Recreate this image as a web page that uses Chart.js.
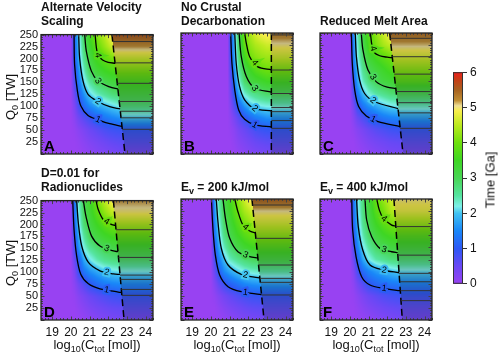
<!DOCTYPE html>
<html>
<head>
<meta charset="utf-8">
<script src="https://cdn.jsdelivr.net/npm/chart.js@4.4.1/dist/chart.umd.min.js"></script>
<style>
  body { margin: 0; background: #fff; width: 500px; height: 354px; position: relative; overflow: hidden;
         font-family: "Liberation Sans", Arial, Helvetica, sans-serif; color: #111; }
  canvas { position: absolute; }
  .ttl { position: absolute; font-weight: bold; font-size: 12px; line-height: 14px; white-space: nowrap; }
  .lab { position: absolute; font-size: 13px; white-space: nowrap; transform: translate(-50%, -50%); color: #111; }
  .rot { transform: translate(-50%, -50%) rotate(-90deg); }
  sub { font-size: 9px; line-height: 0; vertical-align: -3px; }
</style>
</head>
<body>
<script>
'use strict';

// ---- data ----
var Q_ROWS = [250, 225, 200, 175, 150, 125, 100, 75, 50, 25, 0];
var X_TICKS = [19, 20, 21, 22, 23, 24];
var Y_TICKS = [25, 50, 75, 100, 125, 150, 175, 200, 225, 250];
var TIME_TICKS = [0, 1, 2, 3, 4, 5, 6];

var xNodesStd = [20.0, 20.2, 20.4, 20.7, 21.0, 21.4, 21.8, 22.2, 22.6, 23.0];
var xNodesB = [20.9, 21.05, 21.25, 21.5, 21.8, 22.1, 22.4, 22.7, 23.0, 23.25];

// time [Ga] on the grid (rows = Q_ROWS, columns = x nodes), left of the dashed line
var fieldA = [
  [0, 1.15, 2.0, 2.95, 3.55, 4.15, 4.5, 5.0, 5.2, 5.2],
  [0, 1.05, 1.9, 2.8, 3.35, 3.9, 4.25, 4.6, 4.8, 4.8],
  [0, 1.0, 1.75, 2.6, 3.15, 3.6, 3.85, 4.05, 4.15, 4.15],
  [0, 0.85, 1.5, 2.35, 2.95, 3.3, 3.5, 3.65, 3.75, 3.75],
  [0, 0.7, 1.3, 2.05, 2.5, 2.85, 3.05, 3.2, 3.25, 3.25],
  [0, 0.5, 1.05, 1.6, 2.05, 2.35, 2.55, 2.75, 2.85, 2.85],
  [0, 0.3, 0.75, 1.2, 1.5, 1.75, 1.9, 2.05, 2.2, 2.2],
  [0, 0.15, 0.4, 0.65, 0.85, 1.1, 1.3, 1.45, 1.55, 1.55],
  [0, 0.05, 0.15, 0.3, 0.45, 0.6, 0.75, 0.85, 0.9, 0.9],
  [0, 0, 0.05, 0.15, 0.25, 0.35, 0.45, 0.55, 0.6, 0.6],
  [0, 0, 0, 0.05, 0.1, 0.2, 0.25, 0.3, 0.38, 0.38]
];
var fieldB = [
  [0, 0.95, 1.85, 3.0, 4.0, 4.4, 4.7, 4.9, 5.0, 5.0],
  [0, 0.9, 1.8, 2.9, 3.85, 4.2, 4.4, 4.5, 4.6, 4.6],
  [0, 0.85, 1.7, 2.75, 3.5, 4.0, 4.15, 4.25, 4.3, 4.3],
  [0, 0.7, 1.5, 2.55, 3.1, 3.5, 3.75, 3.9, 4.0, 4.0],
  [0, 0.55, 1.3, 2.2, 2.85, 3.15, 3.3, 3.4, 3.5, 3.5],
  [0, 0.4, 1.0, 1.75, 2.3, 2.55, 2.7, 2.8, 2.9, 2.9],
  [0, 0.25, 0.7, 1.2, 1.65, 1.95, 2.1, 2.2, 2.25, 2.25],
  [0, 0.12, 0.35, 0.65, 0.95, 1.2, 1.4, 1.5, 1.6, 1.6],
  [0, 0.05, 0.15, 0.35, 0.5, 0.65, 0.8, 0.9, 0.95, 0.95],
  [0, 0, 0.08, 0.2, 0.3, 0.4, 0.5, 0.55, 0.6, 0.6],
  [0, 0, 0, 0.08, 0.15, 0.22, 0.28, 0.32, 0.35, 0.35]
];
var fieldC = [
  [0, 1.6, 2.35, 3.15, 3.75, 4.2, 4.6, 5.0, 5.1, 5.1],
  [0, 1.5, 2.25, 3.05, 3.6, 4.05, 4.35, 4.55, 4.6, 4.6],
  [0, 1.4, 2.15, 2.85, 3.3, 3.6, 3.8, 4.0, 4.05, 4.05],
  [0, 1.25, 1.9, 2.6, 3.0, 3.25, 3.45, 3.65, 3.7, 3.7],
  [0, 0.95, 1.7, 2.35, 2.7, 3.0, 3.2, 3.3, 3.35, 3.35],
  [0, 0.7, 1.35, 1.9, 2.25, 2.5, 2.65, 2.8, 2.85, 2.85],
  [0, 0.4, 0.95, 1.35, 1.6, 1.8, 2.0, 2.15, 2.2, 2.2],
  [0, 0.2, 0.5, 0.75, 0.98, 1.2, 1.35, 1.45, 1.5, 1.5],
  [0, 0.08, 0.2, 0.35, 0.5, 0.65, 0.75, 0.85, 0.9, 0.9],
  [0, 0, 0.08, 0.18, 0.28, 0.38, 0.45, 0.52, 0.55, 0.55],
  [0, 0, 0, 0.06, 0.12, 0.2, 0.26, 0.32, 0.35, 0.35]
];
var fieldD = [
  [0, 1.3, 2.3, 3.05, 3.4, 4.05, 4.5, 4.9, 5.0, 5.0],
  [0, 1.2, 2.15, 2.95, 3.3, 3.8, 4.2, 4.5, 4.55, 4.55],
  [0, 1.15, 2.0, 2.8, 3.15, 3.5, 3.8, 4.0, 4.05, 4.05],
  [0, 0.9, 1.75, 2.5, 2.95, 3.2, 3.4, 3.55, 3.6, 3.6],
  [0, 0.75, 1.5, 2.2, 2.55, 2.8, 3.0, 3.1, 3.15, 3.15],
  [0, 0.5, 1.0, 1.75, 2.1, 2.4, 2.6, 2.7, 2.75, 2.75],
  [0, 0.3, 0.85, 1.3, 1.55, 1.75, 1.95, 2.05, 2.1, 2.1],
  [0, 0.15, 0.4, 0.7, 0.97, 1.2, 1.35, 1.45, 1.5, 1.5],
  [0, 0.05, 0.18, 0.33, 0.48, 0.62, 0.75, 0.85, 0.9, 0.9],
  [0, 0, 0.07, 0.17, 0.27, 0.37, 0.45, 0.52, 0.55, 0.55],
  [0, 0, 0, 0.05, 0.11, 0.19, 0.25, 0.31, 0.35, 0.35]
];
var fieldE = [
  [0, 1.7, 2.4, 3.1, 3.5, 4.1, 4.6, 5.05, 5.1, 5.1],
  [0, 1.6, 2.3, 3.0, 3.4, 3.95, 4.35, 4.6, 4.65, 4.65],
  [0, 1.45, 2.1, 2.85, 3.25, 3.7, 4.05, 4.3, 4.35, 4.35],
  [0, 1.25, 1.9, 2.65, 3.05, 3.45, 3.75, 3.95, 4.0, 4.0],
  [0, 1.0, 1.65, 2.35, 2.75, 3.1, 3.35, 3.5, 3.55, 3.55],
  [0, 0.75, 1.35, 1.9, 2.35, 2.6, 2.8, 2.95, 3.0, 3.0],
  [0, 0.5, 1.0, 1.5, 1.75, 2.0, 2.2, 2.3, 2.35, 2.35],
  [0, 0.25, 0.55, 0.9, 1.1, 1.3, 1.5, 1.6, 1.65, 1.65],
  [0, 0.08, 0.22, 0.4, 0.55, 0.7, 0.82, 0.92, 0.95, 0.95],
  [0, 0, 0.08, 0.2, 0.3, 0.4, 0.5, 0.57, 0.6, 0.6],
  [0, 0, 0, 0.06, 0.12, 0.2, 0.27, 0.33, 0.36, 0.36]
];
var fieldF = [
  [0, 1.3, 2.1, 2.75, 3.25, 3.9, 4.25, 4.6, 4.7, 4.7],
  [0, 1.2, 2.0, 2.7, 3.15, 3.75, 4.05, 4.4, 4.5, 4.5],
  [0, 1.1, 1.85, 2.6, 3.05, 3.5, 3.8, 4.05, 4.15, 4.15],
  [0, 0.95, 1.65, 2.4, 2.85, 3.2, 3.45, 3.6, 3.7, 3.7],
  [0, 0.7, 1.4, 2.1, 2.5, 2.9, 3.05, 3.2, 3.25, 3.25],
  [0, 0.45, 1.1, 1.75, 2.15, 2.45, 2.6, 2.75, 2.8, 2.8],
  [0, 0.25, 0.75, 1.2, 1.45, 1.65, 1.8, 1.95, 2.05, 2.05],
  [0, 0.12, 0.38, 0.7, 0.98, 1.15, 1.28, 1.35, 1.4, 1.4],
  [0, 0.04, 0.15, 0.32, 0.47, 0.6, 0.72, 0.8, 0.85, 0.85],
  [0, 0, 0.06, 0.16, 0.26, 0.36, 0.44, 0.5, 0.55, 0.55],
  [0, 0, 0, 0.05, 0.1, 0.18, 0.24, 0.3, 0.35, 0.35]
];

// time [Ga] right of the dashed line, per Q_ROWS
var rightA = [5.6, 5.2, 4.6, 4.1, 3.6, 3.2, 2.75, 1.97, 0.97, 0.7, 0.4];
var rightB = [5.35, 5.0, 4.6, 4.1, 3.55, 3.0, 2.35, 1.6, 0.97, 0.7, 0.4];
var rightC = [5.45, 5.1, 4.65, 4.2, 3.75, 3.05, 2.4, 1.7, 0.95, 0.65, 0.4];
var rightD = [5.2, 4.95, 4.4, 3.85, 3.35, 2.85, 2.15, 1.5, 0.95, 0.65, 0.4];
var rightE = [5.55, 5.05, 4.65, 4.2, 3.7, 3.2, 2.5, 1.7, 0.95, 0.65, 0.4];
var rightF = [5.0, 4.8, 4.3, 3.75, 3.3, 2.8, 2.1, 1.45, 0.9, 0.6, 0.4];

// dashed boundary [log10 C, Q0] at top and bottom
var dashA = [[22.2, 250], [22.9, 0]];
var dashB = [[23.24, 250], [23.24, 0]];
var dashC = [[22.13, 250], [22.85, 0]];
var dashD = [[22.28, 250], [22.85, 0]];
var dashE = [[22.2, 250], [22.85, 0]];
var dashF = [[22.36, 250], [22.81, 0]];

// contours 1..4 Ga left of the dashed line
var contoursA = [
  [[20.17, 250], [20.2, 187], [20.35, 132], [20.53, 101], [20.92, 80.6], [21.45, 71.6], [22.08, 63.4], [22.74, 58]],
  [[20.42, 250], [20.47, 201], [20.65, 153], [20.92, 125], [21.45, 110], [22.08, 99], [22.64, 94.4]],
  [[20.74, 250], [20.83, 215], [21.1, 173.5], [21.45, 153], [22.08, 140.5], [22.52, 136]],
  [[21.3, 250], [21.36, 225], [21.45, 207], [21.7, 197], [22.0, 192], [22.37, 190]]
];
var contoursB = [
  [[21.06, 250], [21.13, 187], [21.28, 132], [21.49, 91], [21.81, 71.6], [22.35, 60], [23.24, 56]],
  [[21.28, 250], [21.36, 187], [21.54, 139], [21.81, 112], [22.35, 93.7], [23.24, 89]],
  [[21.51, 250], [21.63, 201], [21.9, 160], [22.35, 135.7], [23.24, 128]],
  [[21.81, 250], [21.9, 228.6], [22.08, 201], [22.52, 180], [23.24, 174]]
];
var contoursC = [
  [[20.08, 250], [20.13, 187], [20.26, 132], [20.47, 98], [20.88, 78.5], [21.51, 66.8], [22.69, 56.5]],
  [[20.29, 250], [20.35, 201], [20.52, 153], [20.79, 125], [21.33, 108], [22.58, 94]],
  [[20.61, 250], [20.7, 215], [20.97, 173.5], [21.42, 149], [22.0, 138], [22.46, 135.7]],
  [[21.1, 250], [21.18, 225], [21.3, 210], [21.6, 203], [22.0, 200], [22.27, 199]]
];
var contoursD = [
  [[20.1, 250], [20.17, 189], [20.31, 134], [20.53, 96], [20.94, 75.8], [21.56, 65.4], [22.54, 58.5], [22.72, 57.5]],
  [[20.31, 250], [20.4, 203], [20.58, 155], [20.94, 120.5], [21.56, 103], [22.28, 96.4], [22.63, 95.5]],
  [[20.67, 250], [20.81, 217], [21.11, 175.6], [21.56, 155], [22.28, 144.6], [22.52, 143]],
  [[21.35, 250], [21.47, 230.7], [21.74, 210], [22.19, 199.7], [22.4, 198]]
];
var contoursE = [
  [[20.03, 250], [20.11, 189], [20.24, 134], [20.47, 93], [20.92, 68.9], [21.63, 58.5], [22.61, 53], [22.71, 52.5]],
  [[20.29, 250], [20.38, 203], [20.56, 148], [20.92, 113.6], [21.63, 94.4], [22.52, 87.5], [22.62, 87]],
  [[20.65, 250], [20.78, 210], [21.01, 168.7], [21.45, 141], [22.08, 130.9], [22.52, 128]],
  [[21.28, 250], [21.45, 223.8], [21.72, 196], [22.08, 184], [22.38, 180]]
];
var contoursF = [
  [[20.1, 250], [20.15, 186], [20.33, 131], [20.63, 89.5], [21.08, 72.3], [21.79, 65.4], [22.7, 60.5]],
  [[20.36, 250], [20.45, 193], [20.69, 144.6], [21.08, 113.6], [21.79, 103.3], [22.63, 97.6]],
  [[20.81, 250], [20.9, 206.6], [21.17, 172], [21.61, 148], [22.24, 141], [22.56, 139]],
  [[21.44, 250], [21.58, 227], [21.79, 210], [22.24, 196], [22.46, 194]]
];

// Q0 of the flat contours right of the dashed line
var flatA = [235.5, 190.8, 148, 110, 89.5, 75.8, 51.7];
var flatB = [246, 173.5, 125, 96, 87.5, 69, 53];
var flatC = [239, 201, 165, 129, 106, 85, 53];
var flatD = [189, 131, 94, 85, 64, 51.6];
var flatE = [237.6, 168.7, 113.6, 86, 77.8, 51.7];
var flatF = [193, 134, 96.4, 79, 60.6, 40];

// ---- colour scale (style) ----
var CMAP_T = [0, 0.5, 1.0, 1.5, 2.0, 2.2, 2.5, 3.0, 3.5, 4.0, 4.5, 4.9, 5.05, 5.2, 5.5, 5.8, 6.0];
var CMAP_RGB = [
  [152, 66, 242], [105, 72, 245], [45, 88, 245], [25, 135, 248], [65, 195, 242], [125, 240, 232],
  [85, 228, 160], [72, 214, 85], [62, 214, 35], [110, 224, 12], [188, 234, 30], [248, 238, 75],
  [238, 222, 150], [192, 142, 52], [168, 98, 32], [200, 60, 22], [240, 30, 28]
];

Chart.defaults.font.family = '"Liberation Sans", Arial, Helvetica, sans-serif';
Chart.defaults.font.size = 12;
Chart.defaults.color = '#111';

function cmap(t) {
  if (t <= CMAP_T[0]) return CMAP_RGB[0].slice();
  for (var i = 0; i < CMAP_T.length - 1; i++) {
    if (t <= CMAP_T[i + 1]) {
      var f = (t - CMAP_T[i]) / (CMAP_T[i + 1] - CMAP_T[i]);
      var a = CMAP_RGB[i], b = CMAP_RGB[i + 1];
      return [a[0] + (b[0] - a[0]) * f, a[1] + (b[1] - a[1]) * f, a[2] + (b[2] - a[2]) * f];
    }
  }
  return CMAP_RGB[CMAP_RGB.length - 1].slice();
}

function locate(nodes, v) {
  var n = nodes.length, asc = nodes[n - 1] > nodes[0];
  for (var i = 0; i < n - 1; i++) {
    var a = nodes[i], b = nodes[i + 1];
    if ((asc && v <= b) || (!asc && v >= b)) {
      var f = (v - a) / (b - a);
      return [i, Math.max(0, Math.min(1, f))];
    }
  }
  return [n - 2, 1];
}

function dashAt(dash, q) {
  var f = (q - dash[0][1]) / (dash[1][1] - dash[0][1]);
  return dash[0][0] + f * (dash[1][0] - dash[0][0]);
}

function colorAt(p, x, q) {
  var r = locate(Q_ROWS, q), c, t, rgb;
  if (x >= dashAt(p.dash, q)) {
    t = p.right[r[0]] * (1 - r[1]) + p.right[r[0] + 1] * r[1];
    rgb = cmap(t);
    return [rgb[0] * 0.8 + 6, rgb[1] * 0.8 + 6, rgb[2] * 0.8 + 6];
  }
  c = locate(p.xNodes, x);
  var g = p.field;
  var v0 = g[r[0]][c[0]] * (1 - c[1]) + g[r[0]][c[0] + 1] * c[1];
  var v1 = g[r[0] + 1][c[0]] * (1 - c[1]) + g[r[0] + 1][c[0] + 1] * c[1];
  t = v0 * (1 - r[1]) + v1 * r[1];
  return cmap(t);
}

function toPt(p) { return { x: p[0], y: p[1] }; }

var panels = [
  { id: 'A', left: 41, top: 33, field: fieldA, xNodes: xNodesStd, right: rightA, dash: dashA, contours: contoursA, flat: flatA, labelX: 21.45, yLab: true, xLab: false },
  { id: 'B', left: 181, top: 33, field: fieldB, xNodes: xNodesB, right: rightB, dash: dashB, contours: contoursB, flat: flatB, labelX: 22.35, yLab: false, xLab: false },
  { id: 'C', left: 320, top: 33, field: fieldC, xNodes: xNodesStd, right: rightC, dash: dashC, contours: contoursC, flat: flatC, labelX: 21.24, yLab: false, xLab: false },
  { id: 'D', left: 41, top: 199, field: fieldD, xNodes: xNodesStd, right: rightD, dash: dashD, contours: contoursD, flat: flatD, labelX: 21.92, yLab: true, xLab: true },
  { id: 'E', left: 181, top: 199, field: fieldE, xNodes: xNodesStd, right: rightE, dash: dashE, contours: contoursE, flat: flatE, labelX: 21.85, yLab: false, xLab: true },
  { id: 'F', left: 320, top: 199, field: fieldF, xNodes: xNodesStd, right: rightF, dash: dashF, contours: contoursF, flat: flatF, labelX: 21.83, yLab: false, xLab: true }
];

var PW = 112, PH = 121, PADL = 40, PADT = 8, PADR = 8, PADB = 24;

function makePanel(p) {
  var cv = document.createElement('canvas');
  cv.width = PADL + PW + PADR;
  cv.height = PADT + PH + PADB;
  cv.style.left = (p.left - PADL) + 'px';
  cv.style.top = (p.top - PADT) + 'px';
  document.body.appendChild(cv);

  var datasets = [];
  p.contours.forEach(function (c) {
    datasets.push({ data: c.map(toPt), showLine: true, borderColor: '#000', borderWidth: 1.3,
                    pointRadius: 0, tension: 0.3, fill: false });
  });
  p.flat.forEach(function (q) {
    datasets.push({ data: [{ x: dashAt(p.dash, q), y: q }, { x: 24.4, y: q }], showLine: true,
                    borderColor: '#333', borderWidth: 1, pointRadius: 0, fill: false });
  });
  datasets.push({ data: p.dash.map(toPt), showLine: true, borderColor: '#000', borderWidth: 1.5,
                  borderDash: [7, 4], pointRadius: 0, fill: false });

  var heat = {
    id: 'heat' + p.id,
    beforeDatasetsDraw: function (chart) {
      var a = chart.chartArea, xs = chart.scales.x, ys = chart.scales.y, ctx = chart.ctx;
      var w = Math.round(a.right - a.left), h = Math.round(a.bottom - a.top);
      var off = document.createElement('canvas');
      off.width = w; off.height = h;
      var octx = off.getContext('2d'), img = octx.createImageData(w, h), d = img.data;
      for (var py = 0; py < h; py++) {
        var q = ys.getValueForPixel(a.top + py + 0.5);
        for (var px = 0; px < w; px++) {
          var rgb = colorAt(p, xs.getValueForPixel(a.left + px + 0.5), q);
          var k = (py * w + px) * 4;
          d[k] = rgb[0]; d[k + 1] = rgb[1]; d[k + 2] = rgb[2]; d[k + 3] = 255;
        }
      }
      octx.putImageData(img, 0, 0);
      ctx.drawImage(off, a.left, a.top);
    },
    afterDatasetsDraw: function (chart) {
      var a = chart.chartArea, xs = chart.scales.x, ys = chart.scales.y, ctx = chart.ctx;
      ctx.save();
      // contour labels
      var lx = xs.getPixelForValue(p.labelX);
      ctx.font = '9px "Liberation Sans", Arial, sans-serif';
      ctx.textAlign = 'center';
      ctx.textBaseline = 'middle';
      p.contours.forEach(function (c, k) {
        for (var i = 0; i < c.length - 1; i++) {
          var x0 = xs.getPixelForValue(c[i][0]), y0 = ys.getPixelForValue(c[i][1]);
          var x1 = xs.getPixelForValue(c[i + 1][0]), y1 = ys.getPixelForValue(c[i + 1][1]);
          if ((x0 - lx) * (x1 - lx) <= 0 && x1 !== x0) {
            var f = (lx - x0) / (x1 - x0), yy = y0 + f * (y1 - y0);
            var ang = Math.atan2(y1 - y0, x1 - x0);
            if (ang > Math.PI / 2) ang -= Math.PI;
            if (ang < -Math.PI / 2) ang += Math.PI;
            var bg = colorAt(p, xs.getValueForPixel(lx), ys.getValueForPixel(yy));
            ctx.save();
            ctx.translate(lx, yy);
            ctx.rotate(ang);
            ctx.lineWidth = 4;
            ctx.strokeStyle = 'rgb(' + bg.map(Math.round).join(',') + ')';
            ctx.strokeText(String(k + 1), 0, 0);
            ctx.fillStyle = '#000';
            ctx.fillText(String(k + 1), 0, 0);
            ctx.restore();
            break;
          }
        }
      });
      // frame with inward ticks
      ctx.strokeStyle = '#444';
      ctx.lineWidth = 1;
      ctx.beginPath();
      for (var i = 0; i <= 30; i++) {
        var v = 18.4 + 0.2 * i;
        var major = Math.abs(v - Math.round(v)) < 0.01;
        var L = major ? 3.5 : 2;
        var X = Math.round(xs.getPixelForValue(v)) + 0.5;
        ctx.moveTo(X, a.bottom); ctx.lineTo(X, a.bottom - L);
        ctx.moveTo(X, a.top); ctx.lineTo(X, a.top + L);
      }
      for (var qv = 0; qv <= 250; qv += 5) {
        var Lq = qv % 25 === 0 ? 3.5 : 2;
        var Y = Math.round(ys.getPixelForValue(qv)) + 0.5;
        ctx.moveTo(a.left, Y); ctx.lineTo(a.left + Lq, Y);
        ctx.moveTo(a.right, Y); ctx.lineTo(a.right - Lq, Y);
      }
      ctx.stroke();
      ctx.strokeStyle = '#222';
      ctx.lineWidth = 1.3;
      ctx.strokeRect(a.left, a.top, a.right - a.left, a.bottom - a.top);
      // panel letter
      ctx.fillStyle = '#000';
      ctx.font = 'bold 15px "Liberation Sans", Arial, sans-serif';
      ctx.textAlign = 'left';
      ctx.textBaseline = 'alphabetic';
      ctx.fillText(p.id, a.left + 3, a.bottom - 3);
      ctx.restore();
    }
  };

  new Chart(cv.getContext('2d'), {
    type: 'scatter',
    data: { datasets: datasets },
    options: {
      responsive: false,
      animation: false,
      events: [],
      layout: { padding: { top: PADT, right: PADR, left: 0, bottom: 0 } },
      plugins: { legend: { display: false }, tooltip: { enabled: false } },
      scales: {
        x: {
          type: 'linear', min: 18.4, max: 24.4,
          grid: { display: false, drawTicks: false, tickLength: 0 }, border: { display: false },
          afterBuildTicks: function (s) { s.ticks = X_TICKS.map(function (v) { return { value: v }; }); },
          afterFit: function (s) { s.height = PADB; },
          ticks: { display: p.xLab, padding: 5, maxRotation: 0, autoSkip: false, font: { size: 12 } }
        },
        y: {
          type: 'linear', min: 0, max: 250,
          grid: { display: false, drawTicks: false, tickLength: 0 }, border: { display: false },
          afterBuildTicks: function (s) { s.ticks = Y_TICKS.map(function (v) { return { value: v }; }); },
          afterFit: function (s) { s.width = PADL; },
          ticks: { display: p.yLab, padding: 3, autoSkip: false, font: { size: 11 } }
        }
      }
    },
    plugins: [heat]
  });
}

panels.forEach(makePanel);

// colour bar
(function () {
  var cv = document.createElement('canvas');
  cv.width = 52; cv.height = 232;
  cv.style.left = '448px'; cv.style.top = '62px';
  document.body.appendChild(cv);
  var bar = {
    id: 'bar',
    beforeDatasetsDraw: function (chart) {
      var a = chart.chartArea, ys = chart.scales.y, ctx = chart.ctx;
      for (var py = Math.floor(a.top); py < a.bottom; py++) {
        var rgb = cmap(ys.getValueForPixel(py + 0.5));
        ctx.fillStyle = 'rgb(' + rgb.map(Math.round).join(',') + ')';
        ctx.fillRect(a.left, py, a.right - a.left, 1);
      }
      ctx.strokeStyle = '#333';
      ctx.lineWidth = 1;
      ctx.strokeRect(a.left + 0.5, a.top + 0.5, a.right - a.left - 1, a.bottom - a.top - 1);
    }
  };
  new Chart(cv.getContext('2d'), {
    type: 'scatter',
    data: { datasets: [{ data: [] }] },
    options: {
      responsive: false, animation: false, events: [],
      layout: { padding: { left: 5, top: 8, bottom: 8, right: 0 } },
      plugins: { legend: { display: false }, tooltip: { enabled: false } },
      scales: {
        x: { display: false },
        y: {
          position: 'right', min: 0, max: 6,
          afterBuildTicks: function (s) { s.ticks = TIME_TICKS.map(function (v) { return { value: v }; }); },
          afterFit: function (s) { s.width = 37; },
          grid: { display: true, drawOnChartArea: false, drawTicks: true, tickLength: 4, color: '#333' },
          border: { display: false },
          ticks: { padding: 3, autoSkip: false, font: { size: 12 } }
        }
      }
    },
    plugins: [bar]
  });
})();
</script>

<div class="ttl" style="left:41px;top:0px">Alternate Velocity<br>Scaling</div>
<div class="ttl" style="left:181px;top:0px">No Crustal<br>Decarbonation</div>
<div class="ttl" style="left:320px;top:14px">Reduced Melt Area</div>
<div class="ttl" style="left:41px;top:166px">D=0.01 for<br>Radionuclides</div>
<div class="ttl" style="left:181px;top:180px">E<sub>v</sub> = 200 kJ/mol</div>
<div class="ttl" style="left:320px;top:180px">E<sub>v</sub> = 400 kJ/mol</div>

<div class="lab rot" style="left:10px;top:97px">Q<sub>0</sub> [TW]</div>
<div class="lab rot" style="left:10px;top:263px">Q<sub>0</sub> [TW]</div>
<div class="lab" style="left:97px;top:344px">log<sub>10</sub>(C<sub>tot</sub> [mol])</div>
<div class="lab" style="left:237px;top:344px">log<sub>10</sub>(C<sub>tot</sub> [mol])</div>
<div class="lab" style="left:376px;top:344px">log<sub>10</sub>(C<sub>tot</sub> [mol])</div>
<div class="lab rot" style="left:490px;top:180px">Time [Ga]</div>
</body>
</html>
